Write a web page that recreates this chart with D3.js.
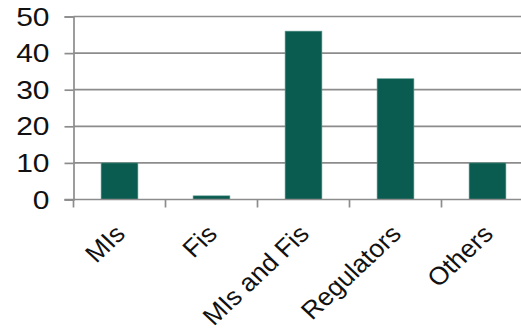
<!DOCTYPE html>
<html>
<head>
<meta charset="utf-8">
<script src="https://cdn.jsdelivr.net/npm/d3@7"></script>
<style>
  html, body { margin: 0; padding: 0; background: #fff; }
  svg { display: block; }
</style>
</head>
<body>
<svg id="chart" width="521" height="331"></svg>
<script>
// Respondent groups and their counts
const categories = ["MIs", "Fis", "MIs and Fis", "Regulators", "Others"];
const counts = [10, 1, 46, 33, 10];
const yTicks = [0, 10, 20, 30, 40, 50];

const svg = d3.select("#chart");
const plotLeft = 73.5, plotRight = 533.5, plotTop = 16.5, plotBottom = 199.5;

const x = d3.scaleBand().domain(categories).range([plotLeft, plotRight]).paddingInner(0.6).paddingOuter(0.3);
const xEdges = d3.scaleLinear().domain([0, categories.length]).range([plotLeft, plotRight]);
const y = d3.scaleLinear().domain([0, 50]).range([plotBottom, plotTop]);

const font = "'Liberation Sans', Arial, sans-serif";
const gridColor = "#8c8c8c";
const textColor = "#111";

// horizontal gridlines
svg.append("g")
  .selectAll("line")
  .data(yTicks.filter(d => d > 0))
  .join("line")
  .attr("x1", plotLeft).attr("x2", 521)
  .attr("y1", d => y(d)).attr("y2", d => y(d))
  .attr("stroke", gridColor).attr("stroke-width", 1.7);

// y axis: line and ticks from d3.axisLeft, labels drawn with a slight horizontal stretch
const yAxis = svg.append("g")
  .attr("transform", `translate(${plotLeft},0)`)
  .call(d3.axisLeft(y).tickValues(yTicks).tickSize(9).tickFormat(""));
yAxis.select(".domain").attr("stroke", gridColor).attr("stroke-width", 1.7);
yAxis.selectAll(".tick line").attr("stroke", gridColor).attr("stroke-width", 1.7);

svg.append("g")
  .selectAll("text")
  .data(yTicks)
  .join("text")
  .attr("transform", d => `translate(${plotLeft - 24},${y(d)}) scale(1.2,1)`)
  .attr("dy", "0.36em")
  .attr("text-anchor", "end")
  .attr("font-family", font)
  .attr("font-size", 25)
  .attr("fill", textColor)
  .text(d => d);

// bars
svg.append("g")
  .selectAll("rect")
  .data(categories.map((c, i) => ({ c, v: counts[i] })))
  .join("rect")
  .attr("x", d => x(d.c))
  .attr("width", x.bandwidth())
  .attr("y", d => y(d.v))
  .attr("height", d => y(0) - y(d.v))
  .attr("fill", "#0a5c51")
  .attr("stroke", "#5f9a90")
  .attr("stroke-width", 0.6);

// x axis baseline and category separators
const xg = svg.append("g");
xg.append("line")
  .attr("x1", plotLeft - 9).attr("x2", 521)
  .attr("y1", plotBottom).attr("y2", plotBottom)
  .attr("stroke", gridColor).attr("stroke-width", 1.7);
xg.selectAll(".sep")
  .data(d3.range(categories.length + 1))
  .join("line")
  .attr("class", "sep")
  .attr("x1", d => xEdges(d)).attr("x2", d => xEdges(d))
  .attr("y1", plotBottom).attr("y2", plotBottom + 8)
  .attr("stroke", gridColor).attr("stroke-width", 1.7);

// rotated category labels
xg.selectAll(".lbl")
  .data(categories)
  .join("text")
  .attr("class", "lbl")
  .attr("transform", d => `translate(${x(d) + x.bandwidth() / 2 + 7},${plotBottom + 36}) scale(1.06,1) rotate(-45)`)
  .attr("text-anchor", "end")
  .attr("font-family", font)
  .attr("font-size", 25)
  .attr("fill", textColor)
  .text(d => d);
</script>
</body>
</html>
